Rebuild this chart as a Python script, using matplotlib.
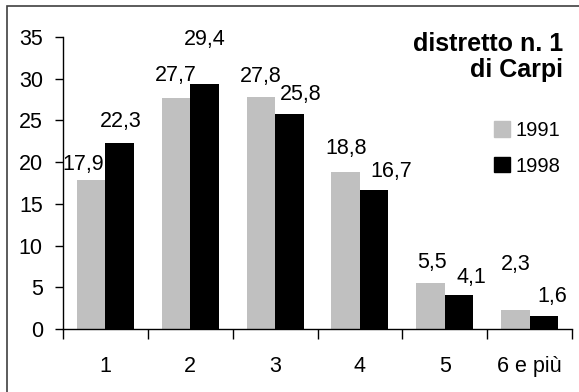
import matplotlib
matplotlib.use('Agg')
import matplotlib.pyplot as plt
from matplotlib.patches import Rectangle, Patch
import numpy as np

## DATI
categorie = ['1', '2', '3', '4', '5', '6 e più']
anni = ['1991', '1998']
val_1991 = [17.9, 27.7, 27.8, 18.8, 5.5, 2.3]
val_1998 = [22.3, 29.4, 25.8, 16.7, 4.1, 1.6]
titolo = 'distretto n. 1\ndi Carpi'

# spostamento delle etichette (pixel) rispetto alla cima della barra
dx_1991 = [-8, 0, 0, 0, 1, 0]
dy_1991 = [15, 22, 21, 24, 21, 45]
dx_1998 = [1, 0, 11, 17, 12, 8]
dy_1998 = [21, 44, 19, 18, 17, 19]

## STILE
plt.rcParams['font.family'] = ['Liberation Sans', 'DejaVu Sans']
plt.rcParams['font.size'] = 15.5
W, H = 579, 392
fig = plt.figure(figsize=(W / 100, H / 100), dpi=100)
fig.patch.set_facecolor('white')

# cornice esterna
fig.patches.append(Rectangle((6.5 / W, -0.1), 1.2, 1 - 6.5 / H + 0.1,
                             transform=fig.transFigure, fill=False,
                             edgecolor='#404040', linewidth=1.2))

ax = fig.add_axes([63 / W, (H - 329) / H, (572 - 63) / W, (329 - 37) / H])
x = np.arange(len(categorie))
larg = 0.335
b1 = ax.bar(x - larg / 2, val_1991, larg, color='#c0c0c0', label=anni[0])
b2 = ax.bar(x + larg / 2, val_1998, larg, color='black', label=anni[1])

def etichette(barre, valori, dxs, dys):
    for b, v, dx, dy in zip(barre, valori, dxs, dys):
        ax.annotate(f'{v:.1f}'.replace('.', ','),
                    xy=(b.get_x() + b.get_width() / 2, v),
                    xytext=(dx, dy), textcoords='offset pixels',
                    ha='center', va='center', fontsize=15.5)

etichette(b1, val_1991, dx_1991, dy_1991)
etichette(b2, val_1998, dx_1998, dy_1998)

ax.set_xlim(-0.5, len(categorie) - 0.5)
ax.set_ylim(0, 35)
ax.set_yticks(range(0, 36, 5))
ax.set_xticks(np.arange(len(categorie) + 1) - 0.5)
ax.set_xticklabels([])
ax.set_xticks(x, minor=True)
ax.set_xticklabels(categorie, minor=True)
ax.tick_params(axis='x', which='major', direction='out', length=7, width=1)
ax.tick_params(axis='x', which='minor', length=0, pad=19.5)
ax.tick_params(axis='y', direction='out', length=6, width=1, pad=8.5)
for s in ['top', 'right']:
    ax.spines[s].set_visible(False)
for s in ['left', 'bottom']:
    ax.spines[s].set_linewidth(1)

fig.text(563 / W, 1 - 32 / H, titolo, ha='right', va='top',
         fontsize=18, fontweight='bold', multialignment='right',
         linespacing=1.12)

ax.legend(handles=[Patch(color='#c0c0c0'), Patch(color='black')], labels=anni,
          loc='upper left', bbox_to_anchor=(494 / W, 1 - 121 / H),
          bbox_transform=fig.transFigure, frameon=False, fontsize=14.5,
          borderpad=0, borderaxespad=0, handlelength=0.8, handleheight=0.8,
          handletextpad=0.25, labelspacing=0.82)

plt.savefig('out.png', dpi=100)
